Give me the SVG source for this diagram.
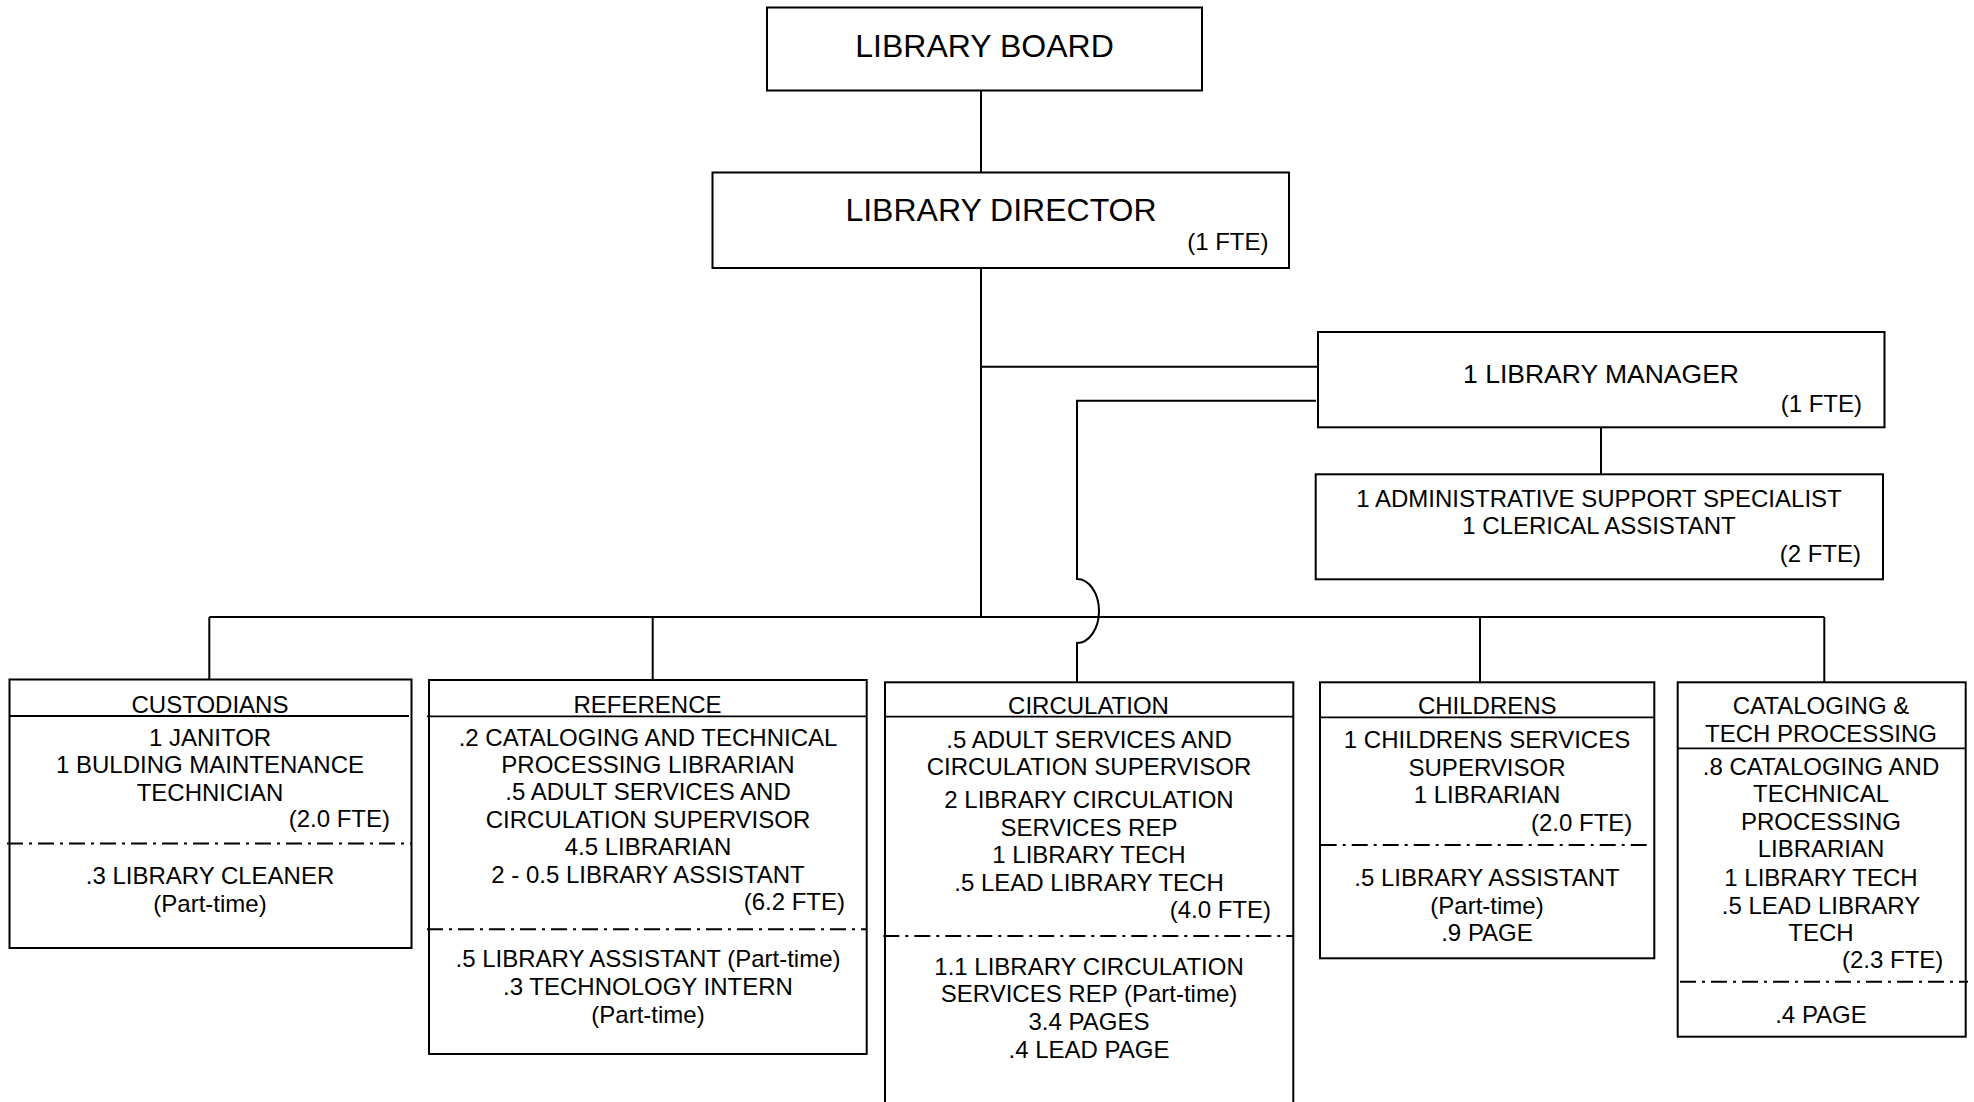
<svg xmlns="http://www.w3.org/2000/svg" width="1974" height="1102" viewBox="0 0 1974 1102">
<style>
.bg{fill:#ffffff}
.box{fill:#ffffff;stroke:#000;stroke-width:2}
.hl{stroke:#000;stroke-width:1.8;fill:none}
.dd{stroke:#000;stroke-width:2;fill:none;stroke-dasharray:16 6 3 6}
.cn{stroke:#000;stroke-width:2;fill:none}
text{font-family:"Liberation Sans",Arial,sans-serif;fill:#000}
.t24{font-size:24px}
.c{text-anchor:middle}
.r{text-anchor:end}
.big{font-size:32px;text-anchor:middle}
.mid{font-size:26.5px;text-anchor:middle}
</style>
<rect class="bg" x="0" y="0" width="1974" height="1102"/>

<g id="connectors">
  <line class="cn" x1="981" y1="90.5" x2="981" y2="172.5"/>
  <line class="cn" x1="981" y1="268" x2="981" y2="617"/>
  <line class="cn" x1="981" y1="366.7" x2="1318" y2="366.7"/>
  <line class="cn" x1="1601" y1="427.3" x2="1601" y2="474.3"/>
  <path class="cn" d="M1316,400.7 H1077 V579 A22,32 0 0 1 1077,643 V682"/>
  <line class="cn" x1="209.3" y1="617" x2="1824.3" y2="617"/>
  <line class="cn" x1="209.3" y1="617" x2="209.3" y2="679.5"/>
  <line class="cn" x1="652.7" y1="617" x2="652.7" y2="680"/>
  <line class="cn" x1="1480" y1="617" x2="1480" y2="682"/>
  <line class="cn" x1="1824.3" y1="617" x2="1824.3" y2="682"/>
</g>

<g id="board">
  <rect class="box" x="767" y="7.5" width="435" height="83"/>
  <text class="big" x="984.5" y="56.5">LIBRARY BOARD</text>
</g>

<g id="director">
  <rect class="box" x="712.5" y="172.5" width="576.5" height="95.5"/>
  <text class="big" x="1001" y="220.5">LIBRARY DIRECTOR</text>
  <text class="t24 r" x="1268.5" y="250">(1 FTE)</text>
</g>

<g id="manager">
  <rect class="box" x="1318" y="332" width="566.5" height="95.3"/>
  <text class="mid" x="1601" y="383">1 LIBRARY MANAGER</text>
  <text class="t24 r" x="1862" y="412">(1 FTE)</text>
</g>

<g id="admin">
  <rect class="box" x="1315.7" y="474.3" width="567.3" height="105"/>
  <text class="t24 c" x="1599" y="507">1 ADMINISTRATIVE SUPPORT SPECIALIST</text>
  <text class="t24 c" x="1599" y="534">1 CLERICAL ASSISTANT</text>
  <text class="t24 r" x="1861" y="562">(2 FTE)</text>
</g>

<g id="custodians">
  <rect class="box" x="9.5" y="679.5" width="402" height="268.5"/>
  <line class="hl" x1="9.5" y1="716" x2="409" y2="716"/>
  <text class="t24 c" x="210" y="712.5">CUSTODIANS</text>
  <text class="t24 c" x="210" y="745.5">1 JANITOR</text>
  <text class="t24 c" x="210" y="773">1 BULDING MAINTENANCE</text>
  <text class="t24 c" x="210" y="800.5">TECHNICIAN</text>
  <text class="t24 r" x="390" y="827">(2.0 FTE)</text>
  <line class="dd" x1="7" y1="843.5" x2="411" y2="843.5"/>
  <text class="t24 c" x="210" y="884">.3 LIBRARY CLEANER</text>
  <text class="t24 c" x="210" y="911.5">(Part-time)</text>
</g>

<g id="reference">
  <rect class="box" x="429" y="680" width="437.7" height="374"/>
  <line class="hl" x1="427" y1="716.3" x2="866.7" y2="716.3"/>
  <text class="t24 c" x="647.5" y="712.5">REFERENCE</text>
  <text class="t24 c" x="648" y="745.7">.2 CATALOGING AND TECHNICAL</text>
  <text class="t24 c" x="648" y="772.7">PROCESSING LIBRARIAN</text>
  <text class="t24 c" x="648" y="800">.5 ADULT SERVICES AND</text>
  <text class="t24 c" x="648" y="827.5">CIRCULATION SUPERVISOR</text>
  <text class="t24 c" x="648" y="855">4.5 LIBRARIAN</text>
  <text class="t24 c" x="648" y="882.5">2 - 0.5 LIBRARY ASSISTANT</text>
  <text class="t24 r" x="845" y="910">(6.2 FTE)</text>
  <line class="dd" x1="427" y1="929.3" x2="866.7" y2="929.3"/>
  <text class="t24 c" x="648" y="967">.5 LIBRARY ASSISTANT (Part-time)</text>
  <text class="t24 c" x="648" y="994.5">.3 TECHNOLOGY INTERN</text>
  <text class="t24 c" x="648" y="1022.5">(Part-time)</text>
</g>

<g id="circulation">
  <rect class="box" x="885" y="682.3" width="408.3" height="440"/>
  <line class="hl" x1="885" y1="716.7" x2="1293.3" y2="716.7"/>
  <text class="t24 c" x="1088.5" y="714.3">CIRCULATION</text>
  <text class="t24 c" x="1089" y="747.7">.5 ADULT SERVICES AND</text>
  <text class="t24 c" x="1089" y="775">CIRCULATION SUPERVISOR</text>
  <text class="t24 c" x="1089" y="807.7">2 LIBRARY CIRCULATION</text>
  <text class="t24 c" x="1089" y="835.5">SERVICES REP</text>
  <text class="t24 c" x="1089" y="863.3">1 LIBRARY TECH</text>
  <text class="t24 c" x="1089" y="890.5">.5 LEAD LIBRARY TECH</text>
  <text class="t24 r" x="1271" y="918">(4.0 FTE)</text>
  <line class="dd" x1="883.3" y1="936" x2="1293.3" y2="936"/>
  <text class="t24 c" x="1089" y="974.5">1.1 LIBRARY CIRCULATION</text>
  <text class="t24 c" x="1089" y="1001.5">SERVICES REP (Part-time)</text>
  <text class="t24 c" x="1089" y="1029.5">3.4 PAGES</text>
  <text class="t24 c" x="1089" y="1057.5">.4 LEAD PAGE</text>
</g>

<g id="childrens">
  <rect class="box" x="1320" y="682.3" width="334.3" height="276"/>
  <line class="hl" x1="1320" y1="717.3" x2="1654.3" y2="717.3"/>
  <text class="t24 c" x="1487.3" y="714.3">CHILDRENS</text>
  <text class="t24 c" x="1487" y="747.7">1 CHILDRENS SERVICES</text>
  <text class="t24 c" x="1487" y="775.7">SUPERVISOR</text>
  <text class="t24 c" x="1487" y="802.7">1 LIBRARIAN</text>
  <text class="t24 r" x="1632.3" y="831">(2.0 FTE)</text>
  <line class="dd" x1="1320.7" y1="845" x2="1648.3" y2="845"/>
  <text class="t24 c" x="1487" y="885.7">.5 LIBRARY ASSISTANT</text>
  <text class="t24 c" x="1487" y="913.5">(Part-time)</text>
  <text class="t24 c" x="1487" y="940.7">.9 PAGE</text>
</g>

<g id="cataloging">
  <rect class="box" x="1677.7" y="682.3" width="288" height="354.4"/>
  <line class="hl" x1="1677.7" y1="748.3" x2="1965.7" y2="748.3"/>
  <text class="t24 c" x="1821" y="714.3">CATALOGING &amp;</text>
  <text class="t24 c" x="1821" y="741.7">TECH PROCESSING</text>
  <text class="t24 c" x="1821" y="775">.8 CATALOGING AND</text>
  <text class="t24 c" x="1821" y="802.3">TECHNICAL</text>
  <text class="t24 c" x="1821" y="830">PROCESSING</text>
  <text class="t24 c" x="1821" y="856.7">LIBRARIAN</text>
  <text class="t24 c" x="1821" y="885.7">1 LIBRARY TECH</text>
  <text class="t24 c" x="1821" y="914">.5 LEAD LIBRARY</text>
  <text class="t24 c" x="1821" y="941">TECH</text>
  <text class="t24 r" x="1943.3" y="968.3">(2.3 FTE)</text>
  <line class="dd" x1="1680" y1="981.7" x2="1968" y2="981.7"/>
  <text class="t24 c" x="1821" y="1023.3">.4 PAGE</text>
</g>
</svg>
